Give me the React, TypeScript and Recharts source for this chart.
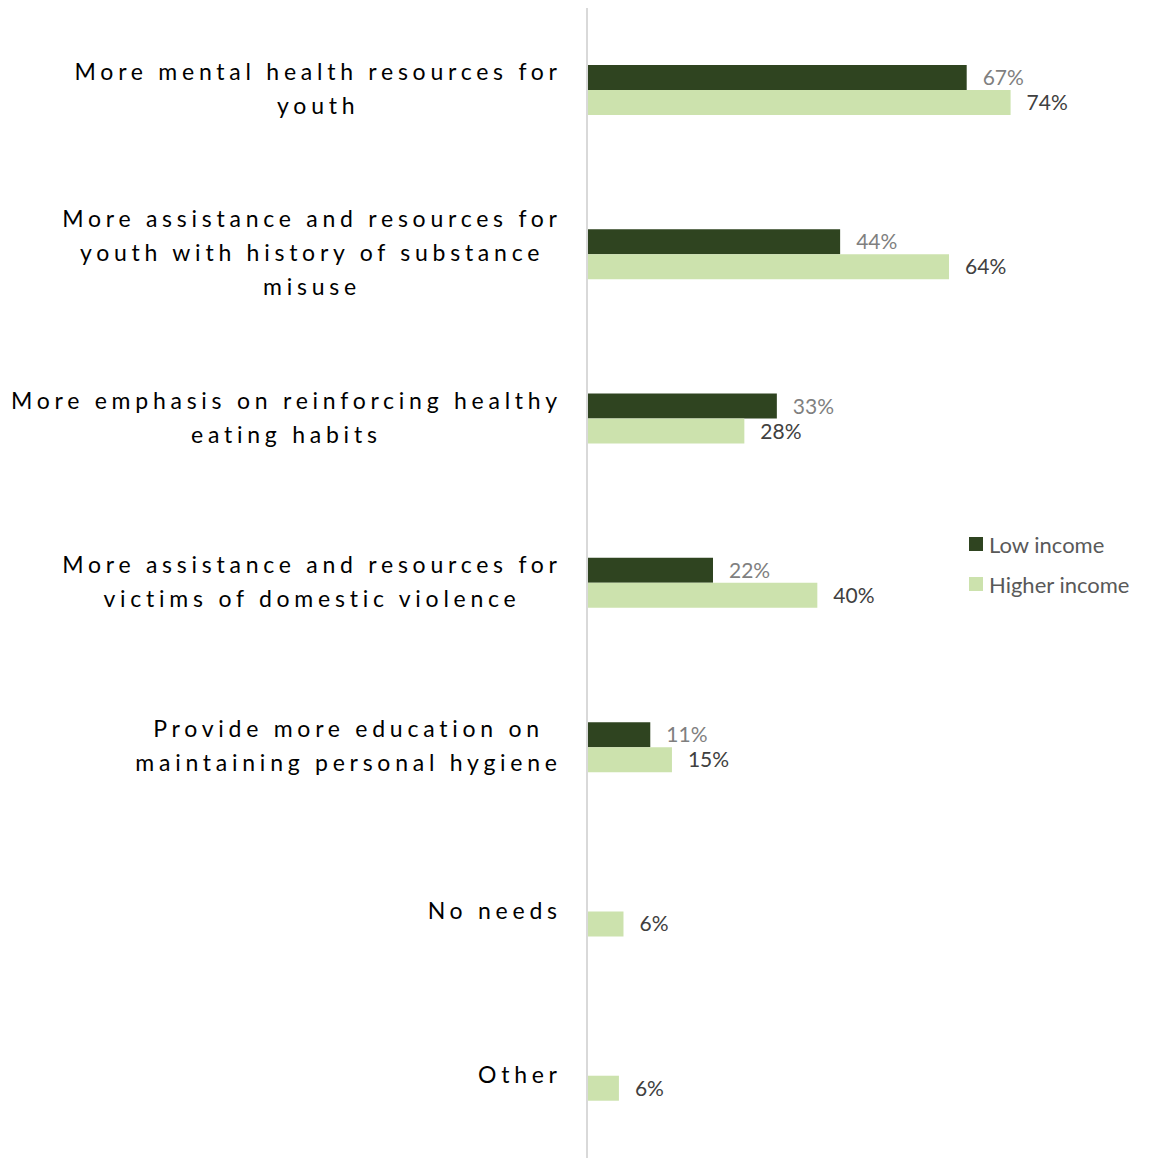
import { BarChart, Bar, XAxis, YAxis, LabelList } from "recharts";

// categories (line breaks as in the reference)
const categories = [
  ["More mental health resources for", "youth"],
  ["More assistance and resources for", "youth with history of substance", "misuse"],
  ["More emphasis on reinforcing healthy", "eating habits"],
  ["More assistance and resources for", "victims of domestic violence"],
  ["Provide more education on", "maintaining personal hygiene"],
  ["No needs"],
  ["Other"],
];

// percent values (labels are rounded)
const lowIncome = [66.6, 44.4, 33.3, 22.1, 11.1, null, null];
const higherIncome = [74.3, 63.5, 27.6, 40.4, 14.9, 6.4, 5.6];

const seriesNames = ["Low income", "Higher income"];
const seriesColors = ["#2F4420", "#CCE2AD"];
const labelColors = ["#7F7F7F", "#404040"];

const data = categories.map((lines, i) => ({
  name: lines.join(" "),
  low: lowIncome[i],
  high: higherIncome[i],
}));

const TICK_SIZE = 23;
const TICK_FONT = `${TICK_SIZE}px Lato`;
const TICK_SPACING = 4.75;
const LINE_H = 34;
const RIGHT_EDGE = 557;

let measureCtx: CanvasRenderingContext2D | null = null;
function textWidth(s: string) {
  if (!measureCtx) measureCtx = document.createElement("canvas").getContext("2d");
  if (!measureCtx) return s.length * 12;
  measureCtx.font = TICK_FONT;
  return measureCtx.measureText(s).width + TICK_SPACING * (s.length - 1);
}

function CategoryTick(props: any) {
  const { y, index } = props;
  const lines = categories[index] || [];
  const maxW = Math.max(...lines.map(textWidth));
  const cx = RIGHT_EDGE - maxW / 2;
  return (
    <g>
      {lines.map((line, i) => (
        <text
          key={i}
          x={cx + TICK_SPACING / 2}
          y={y - 2 + (i - (lines.length - 1) / 2) * LINE_H}
          textAnchor="middle"
          dominantBaseline="central"
          fontFamily="Lato"
          fontSize={TICK_SIZE}
          letterSpacing={TICK_SPACING}
          fill="#000"
        >
          {line}
        </text>
      ))}
    </g>
  );
}

const fmt = (v: any) => (v == null ? "" : `${Math.round(Number(v))}%`);

export default function App() {
  return (
    <div style={{ position: "absolute", left: 0, top: 0, width: 1149, height: 1159, background: "#fff" }}>
      <BarChart
        width={1149}
        height={1159}
        data={data}
        layout="vertical"
        margin={{ top: 8, right: 1, bottom: 1, left: 0 }}
        barGap={0}
        barSize={25}
      >
        <XAxis type="number" domain={[0, 98.4]} tick={false} tickLine={false} axisLine={{ stroke: "#D9D9D9", strokeWidth: 2 }} height={0} />
        <YAxis
          type="category"
          dataKey="name"
          width={587}
          axisLine={{ stroke: "#D9D9D9", strokeWidth: 2 }}
          tickLine={false}
          tick={<CategoryTick />}
          interval={0}
        />
        <Bar dataKey="low" name={seriesNames[0]} fill={seriesColors[0]} isAnimationActive={false}>
          <LabelList dataKey="low" position="right" offset={16} formatter={fmt} fill={labelColors[0]} fontFamily="Lato" fontSize={21} />
        </Bar>
        <Bar dataKey="high" name={seriesNames[1]} fill={seriesColors[1]} isAnimationActive={false}>
          <LabelList dataKey="high" position="right" offset={16} formatter={fmt} fill={labelColors[1]} fontFamily="Lato" fontSize={21} />
        </Bar>
      </BarChart>
      <div style={{ position: "absolute", left: 969, top: 524, fontFamily: "Lato", fontSize: 22, color: "#595959" }}>
        {seriesNames.map((n, i) => (
          <div key={n} style={{ display: "flex", alignItems: "center", height: 40 }}>
            <span style={{ width: 14, height: 14, background: seriesColors[i], marginRight: 6 }} />
            <span>{n}</span>
          </div>
        ))}
      </div>
    </div>
  );
}
